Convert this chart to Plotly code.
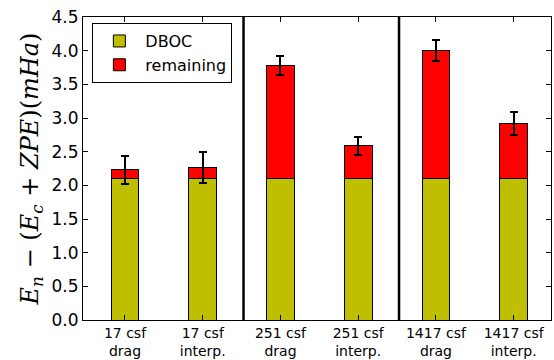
import plotly.graph_objects as go

categories = ["17 csf<br>drag", "17 csf<br>interp.", "251 csf<br>drag", "251 csf<br>interp.", "1417 csf<br>drag", "1417 csf<br>interp."]
dboc = [2.10, 2.10, 2.10, 2.10, 2.10, 2.10]
totals = [2.23, 2.27, 3.78, 2.59, 4.00, 2.92]
errors = [0.21, 0.23, 0.135, 0.135, 0.16, 0.17]
separators = [1.525, 3.525]
yticks = [0.0, 0.5, 1.0, 1.5, 2.0, 2.5, 3.0, 3.5, 4.0, 4.5]

remaining = [t - d for t, d in zip(totals, dboc)]
xpos = list(range(len(categories)))

fig = go.Figure()
fig.add_trace(go.Bar(x=xpos, y=dboc, name="DBOC", width=0.356,
                     marker=dict(color="#bfbf00", line=dict(color="black", width=1))))
fig.add_trace(go.Bar(x=xpos, y=remaining, name="remaining", width=0.356,
                     marker=dict(color="#ff0000", line=dict(color="black", width=1)),
                     error_y=dict(type="data", array=errors, color="black", thickness=2, width=4)))

for s in separators:
    fig.add_shape(type="line", x0=s, x1=s, y0=0, y1=1, xref="x", yref="paper",
                  line=dict(color="black", width=2.5))

fig.update_layout(
    width=554, height=360, barmode="stack",
    margin=dict(l=83, r=3, t=17, b=40),
    paper_bgcolor="white", plot_bgcolor="white",
    font=dict(family="DejaVu Sans", color="black"),
    showlegend=True,
    legend=dict(x=0.02, y=0.98, xanchor="left", yanchor="top",
                bordercolor="black", borderwidth=1, bgcolor="white", itemwidth=42,
                font=dict(size=16, family="DejaVu Sans"), traceorder="normal"),
    xaxis=dict(range=[-0.54, 5.48], tickmode="array", tickvals=xpos, ticktext=categories,
               ticks="inside", ticklen=5, tickcolor="black", showline=True, linecolor="black",
               linewidth=1, mirror="allticks", showgrid=False, zeroline=False, automargin=False,
               tickfont=dict(size=14, family="DejaVu Sans")),
    yaxis=dict(range=[0, 4.5], tickmode="array", tickvals=yticks,
               ticktext=[f"{v:.1f}" for v in yticks],
               ticks="inside", ticklen=5, tickcolor="black", showline=True, linecolor="black",
               linewidth=1, mirror="allticks", showgrid=False, zeroline=False, automargin=False,
               tickfont=dict(size=17, family="DejaVu Sans"),
               title=dict(text="<i>E</i><sub><i>n</i></sub> \u2212 (<i>E</i><sub><i>c</i></sub> + <i>ZPE</i>)(<i>mHa</i>)",
                          font=dict(size=24, family="DejaVu Serif"), standoff=6)),
)

fig.write_html("out.html")
